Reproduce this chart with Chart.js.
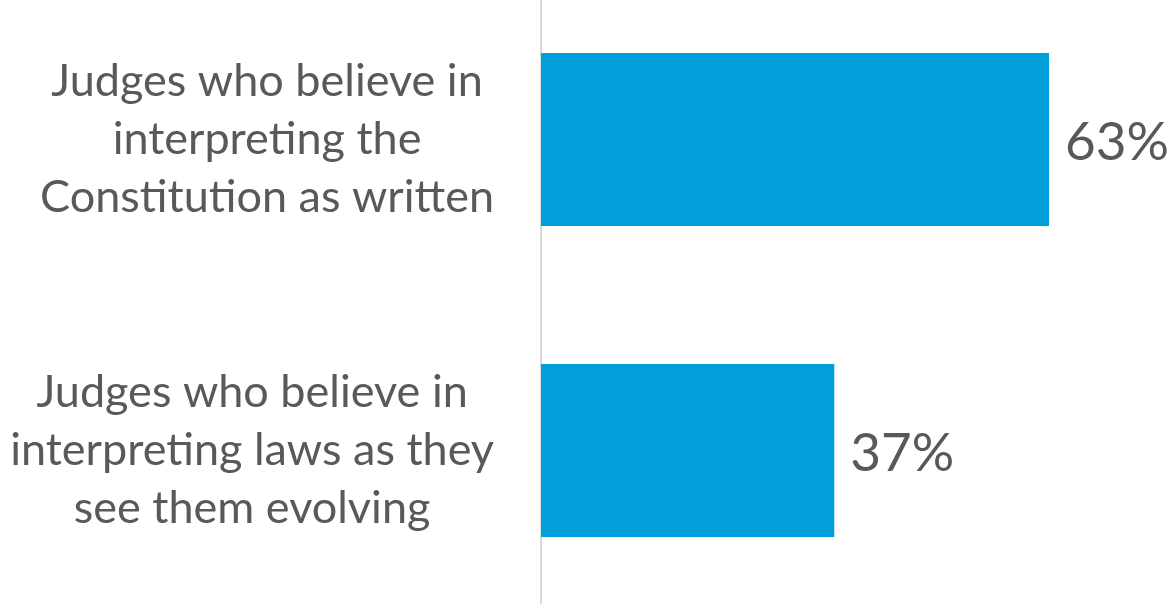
<!DOCTYPE html>
<html>
<head>
<meta charset="utf-8">
<script src="https://cdn.jsdelivr.net/npm/chart.js@4/dist/chart.umd.min.js"></script>
<style>
  html, body { margin: 0; padding: 0; background: #fff; overflow: hidden; }
  #wrap { position: absolute; left: 0; top: -40px; width: 1170px; height: 660px; }
</style>
</head>
<body>
<div id="wrap"><canvas id="chart"></canvas></div>
<script>
// chart values
var categories = [
  ['Judges who believe in', 'interpreting the', 'Constitution as written'],
  ['Judges who believe in', 'interpreting laws as they', 'see them evolving']
];
var values = [63.4, 36.6];
var valueLabels = ['63%', '37%'];

var textColor = '#595959';
var fontFamily = 'Lato, "Open Sans", sans-serif';
var tickFont = { family: fontFamily, size: 45, lineHeight: 1.29 };

// each label block is centred on itself but its widest line ends next to the axis
var alignBlocks = {
  id: 'alignBlocks',
  beforeDraw: function(chart) {
    var scale = chart.scales.y;
    var ctx = chart.ctx;
    var items = scale.getLabelItems(chart.chartArea);
    ctx.save();
    ctx.font = tickFont.size + 'px ' + fontFamily;
    items.forEach(function(item) {
      var lines = [].concat(item.label);
      var widest = 0;
      lines.forEach(function(l) { widest = Math.max(widest, ctx.measureText(l).width); });
      item.options.translation[0] = scale.right - 47 - widest / 2;
    });
    ctx.restore();
  }
};

// write the percent next to each bar
var barLabels = {
  id: 'barLabels',
  afterDatasetsDraw: function(chart) {
    var ctx = chart.ctx;
    var meta = chart.getDatasetMeta(0);
    ctx.save();
    ctx.fillStyle = textColor;
    ctx.font = '53px ' + fontFamily;
    ctx.textAlign = 'left';
    ctx.textBaseline = 'middle';
    meta.data.forEach(function(bar, i) {
      ctx.fillText(valueLabels[i], bar.x + 16, bar.y + 3);
    });
    ctx.restore();
  }
};

var ctx = document.getElementById('chart').getContext('2d');
var myChart = new Chart(ctx, {
  type: 'bar',
  data: {
    labels: categories,
    datasets: [{
      data: values,
      backgroundColor: '#009fda',
      borderWidth: 0,
      categoryPercentage: 1,
      barPercentage: 0.556
    }]
  },
  options: {
    indexAxis: 'y',
    responsive: true,
    maintainAspectRatio: false,
    animation: false,
    layout: { padding: { top: 24, bottom: 14, left: 0, right: 0 } },
    plugins: {
      legend: { display: false },
      tooltip: { enabled: false }
    },
    scales: {
      x: {
        display: false,
        min: 0,
        max: 78.5
      },
      y: {
        afterFit: function(scale) {
          scale.width = 541;
          scale.paddingTop = 0;
          scale.paddingBottom = 0;
        },
        grid: { display: false, drawTicks: false, tickLength: 0 },
        border: { display: true, color: '#d9d9d9', width: 2 },
        ticks: {
          crossAlign: 'center',
          padding: 47,
          color: textColor,
          font: tickFont
        }
      }
    }
  },
  plugins: [alignBlocks, barLabels]
});
</script>
</body>
</html>
